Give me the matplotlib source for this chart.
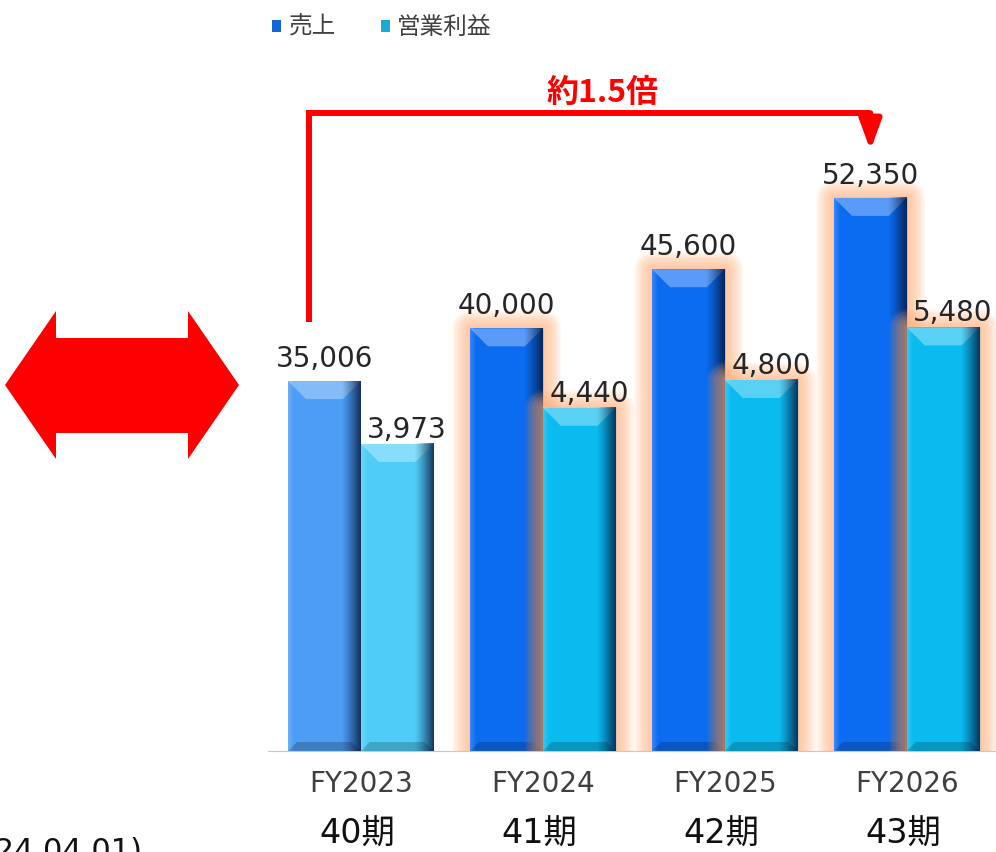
import numpy as np
import matplotlib
matplotlib.use('Agg')
import matplotlib.pyplot as plt
import matplotlib.patheffects as pe
from matplotlib.patches import Polygon, Patch
from matplotlib.colors import to_rgb

plt.rcParams['font.family'] = ['DejaVu Sans', 'Noto Sans CJK JP']

# data
periods = ['FY2023', 'FY2024', 'FY2025', 'FY2026']
terms = ['40期', '41期', '42期', '43期']
sales = [35006, 40000, 45600, 52350]
profit = [3973, 4440, 4800, 5480]
series_names = ['売上', '営業利益']
sales_colors = ['#4C9DF3', '#0B6CF2', '#0B6CF2', '#0B6CF2']
profit_colors = ['#4FCDF7', '#0ABBF0', '#0ABBF0', '#0ABBF0']
highlight = [False, True, True, True]

W, H, DPI = 996, 852, 100
AX_W, AX_H = 728, 691
fig = plt.figure(figsize=(W / DPI, H / DPI), dpi=DPI)
ax = fig.add_axes([268 / W, 101 / H, AX_W / W, AX_H / H])
ax2 = ax.twinx()

x = np.arange(len(periods))
bw = 0.4
ax.set_xlim(-0.51, 3.49)
ax.set_ylim(0, 65400)
ax2.set_ylim(0, 8940)

# soft peach halo: many thin translucent strokes
glow_fx = [pe.Stroke(linewidth=lw, foreground='#FFAE78', alpha=0.085, joinstyle='round')
           for lw in np.linspace(26, 3, 11)] + [pe.Normal()]


def dress(axis, rects, colors, glows):
    """fake the bevelled 3D look of the original bars"""
    xpx = (axis.get_xlim()[1] - axis.get_xlim()[0]) / AX_W
    ypx = (axis.get_ylim()[1] - axis.get_ylim()[0]) / AX_H
    t = np.linspace(0, 1, 80)
    grad = np.zeros((1, 80, 4))
    grad[0, :, :3] = [0.02, 0.08, 0.22]
    grad[0, :, 3] = np.clip((t - 0.74) / 0.26, 0, 1) ** 1.2 * 0.8
    left = t < 0.08
    grad[0, left, :3] = 1.0
    grad[0, left, 3] = 0.18 * (1 - t[left] / 0.08)
    for r, c, g in zip(rects, colors, glows):
        if g:
            r.set_path_effects(glow_fx)
        x0, w, h = r.get_x(), r.get_width(), r.get_height()
        rgb = np.array(to_rgb(c))
        bev = 18
        top = rgb + (1 - rgb) * 0.32
        axis.add_patch(Polygon([(x0, h), (x0 + w, h), (x0 + w - bev * xpx, h - bev * ypx),
                                (x0 + bev * xpx, h - bev * ypx)],
                               closed=True, fc=top, ec='none', zorder=2.5))
        bb = 9
        axis.add_patch(Polygon([(x0, 0), (x0 + w, 0), (x0 + w - bb * xpx, bb * ypx),
                                (x0 + bb * xpx, bb * ypx)],
                               closed=True, fc=rgb * 0.8, ec='none', zorder=2.5))
        axis.imshow(grad, extent=(x0, x0 + w, 0, h), aspect='auto', zorder=3,
                    interpolation='bilinear')


bars_s = ax.bar(x - bw / 2, sales, bw, color=sales_colors, zorder=2)
bars_p = ax2.bar(x + bw / 2, profit, bw, color=profit_colors, zorder=2)
dress(ax, bars_s, sales_colors, highlight)
dress(ax2, bars_p, profit_colors, highlight)
ax.set_xlim(-0.51, 3.49)
ax.set_ylim(0, 65400)
ax2.set_ylim(0, 8940)

for r, v in zip(bars_s, sales):
    ax.annotate(f'{v:,}', (r.get_x() + r.get_width() / 2, v), xytext=(0, 10),
                textcoords='offset points', ha='center', va='baseline',
                fontsize=20, color='#262626', zorder=5)
for r, v in zip(bars_p, profit):
    ax2.annotate(f'{v:,}', (r.get_x() + r.get_width() / 2, v), xytext=(7, 4.5),
                 textcoords='offset points', ha='center', va='baseline',
                 fontsize=20, color='#262626', zorder=5)

ax.set_xticks(x, periods)
ax.tick_params(axis='x', length=0, pad=14, labelsize=20, labelcolor='#404040')
ax.set_yticks([])
ax2.set_yticks([])
for s in ['top', 'left', 'right']:
    ax.spines[s].set_visible(False)
for s in ax2.spines.values():
    s.set_visible(False)
ax.spines['bottom'].set_color('#C8C8C8')

for xi, t in zip(x, terms):
    ax.text(xi - 0.02, -(844 - 751) / AX_H, t, transform=ax.get_xaxis_transform(),
            ha='center', va='baseline', fontsize=24, color='#111111')

# date note, cut off at the bottom-left edge as in the original
fig.text(142 / W, 1 - 860 / H, '(2024.04.01)', ha='right', va='baseline',
         fontsize=22, color='#111111')

# legend
handles = [Patch(fc='#1466D6'), Patch(fc='#1AAAD6')]
fig.legend(handles, series_names, loc='center left', bbox_to_anchor=(272 / W, 1 - 27 / H),
           ncol=2, frameon=False, fontsize=17, handlelength=0.4, handleheight=0.4,
           handletextpad=0.3, columnspacing=1.9, borderpad=0, borderaxespad=0,
           labelcolor='#404040')

# growth bracket
x_left = x[0] - bw / 2 - 0.086
x_right = x[3] - bw / 2
y_top = 60360
ax.plot([x_left, x_left, x_right], [sales[0] * 1.16, y_top, y_top], color='red', lw=4.3,
        solid_joinstyle='miter', solid_capstyle='butt', clip_on=False, zorder=6)
ax.annotate('', xy=(x_right, 56860), xytext=(x_right, y_top),
            arrowprops=dict(arrowstyle='-|>,head_width=0.33,head_length=0.9', lw=4.3,
                            color='red', shrinkA=0, shrinkB=0, mutation_scale=20),
            zorder=6)
ax.text((x_left + x_right) / 2 + 0.07, 62250, '約1.5倍', ha='center', va='center',
        fontsize=23, fontweight='bold', color='#FF0000',
        family=['Noto Sans CJK JP', 'DejaVu Sans'])

# big red double arrow on the left
arrow_px = [(5, 385), (56, 311), (56, 338), (188, 338), (188, 311), (239, 385),
            (188, 459), (188, 433), (56, 433), (56, 459)]
fig.patches.append(Polygon([(px / W, 1 - py / H) for px, py in arrow_px], closed=True,
                           fc='#FF0000', ec='none', transform=fig.transFigure))

fig.savefig('out.png', dpi=DPI)
